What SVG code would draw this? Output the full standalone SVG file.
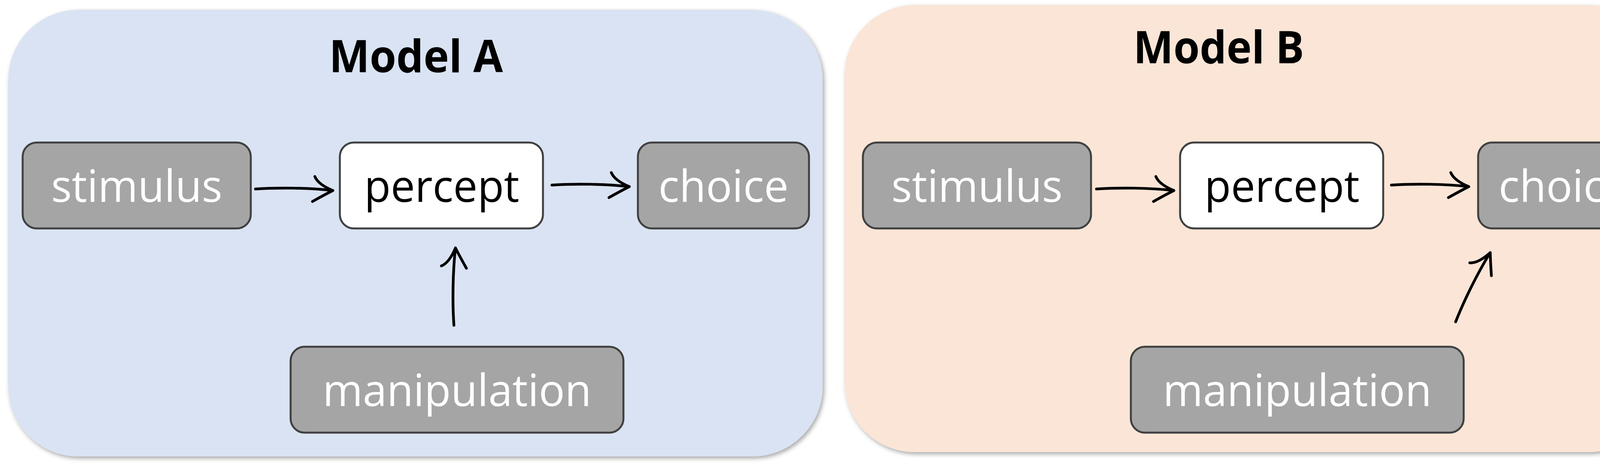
<svg xmlns="http://www.w3.org/2000/svg" width="4268" height="1196" viewBox="0 0 4268 1196">
<style>
.panelA{fill:#DAE3F3;filter:url(#shadow)}
.panelB{fill:#FBE5D6;filter:url(#shadow)}
.node{fill:#A5A5A5;stroke:#404040;stroke-width:5}
.nodeW{fill:#FFFFFF;stroke:#404040;stroke-width:5}
.lbl{font-family:"Open Sans","Liberation Sans",sans-serif;font-size:114px;text-anchor:middle;fill:#FFFFFF}
.lblK{fill:#000000}
.title{font-family:"Open Sans","Liberation Sans",sans-serif;font-weight:bold;font-size:115px;text-anchor:middle;fill:#000000}
.arrow{fill:none;stroke:#000000;stroke-width:7;stroke-linecap:round;stroke-linejoin:round}
</style>
<defs>
<filter id="shadow" x="-5%" y="-5%" width="110%" height="110%">
<feDropShadow dx="4" dy="5" stdDeviation="6" flood-color="#000000" flood-opacity="0.35"/>
</filter>
<path id="arw" d="M-198,-4 C-140,-8 -60,-7 0,0 M-46,-36 Q-38,-16 0,0 M0,0 C-18,9 -36,19 -52,28"/>
</defs>
<rect width="4268" height="1196" fill="#FFFFFF"/>
<g id="panel-a">
<rect class="panelA" x="21" y="25" width="2085" height="1144" rx="180" ry="180"/>
<text class="title" x="1065" y="185" textLength="445" lengthAdjust="spacingAndGlyphs">Model A</text>
</g>
<g id="panel-b">
<rect class="panelB" x="2162" y="13" width="2085" height="1145" rx="180" ry="180"/>
<text class="title" x="3120" y="162" textLength="437" lengthAdjust="spacingAndGlyphs">Model B</text>
</g>
<g id="a-stimulus">
<rect class="node" x="58" y="365" width="584" height="220" rx="36"/>
<text class="lbl" x="350" y="517" textLength="438" lengthAdjust="spacingAndGlyphs">stimulus</text>
</g>
<g id="a-percept">
<rect class="nodeW" x="870" y="365" width="520" height="220" rx="36"/>
<text class="lbl lblK" x="1131" y="517" textLength="397" lengthAdjust="spacingAndGlyphs">percept</text>
</g>
<g id="a-choice">
<rect class="node" x="1633" y="365" width="438" height="220" rx="36"/>
<text class="lbl" x="1852" y="517" textLength="333" lengthAdjust="spacingAndGlyphs">choice</text>
</g>
<g id="a-manipulation">
<rect class="node" x="744" y="888" width="852" height="220" rx="36"/>
<text class="lbl" x="1170" y="1040" textLength="688" lengthAdjust="spacingAndGlyphs">manipulation</text>
</g>
<g id="b-stimulus">
<rect class="node" x="2209" y="365" width="584" height="220" rx="36"/>
<text class="lbl" x="2501" y="517" textLength="438" lengthAdjust="spacingAndGlyphs">stimulus</text>
</g>
<g id="b-percept">
<rect class="nodeW" x="3021" y="365" width="520" height="220" rx="36"/>
<text class="lbl lblK" x="3282" y="517" textLength="397" lengthAdjust="spacingAndGlyphs">percept</text>
</g>
<g id="b-choice">
<rect class="node" x="3784" y="365" width="438" height="220" rx="36"/>
<text class="lbl" x="4003" y="517" textLength="333" lengthAdjust="spacingAndGlyphs">choice</text>
</g>
<g id="b-manipulation">
<rect class="node" x="2895" y="888" width="852" height="220" rx="36"/>
<text class="lbl" x="3321" y="1040" textLength="688" lengthAdjust="spacingAndGlyphs">manipulation</text>
</g>
<g id="connectors" class="arrow">
<use href="#arw" transform="translate(852,488)"/>
<use href="#arw" transform="translate(1611,478)"/>
<use href="#arw" transform="translate(1166,635) rotate(-90)"/>
<use href="#arw" transform="translate(3005,488)"/>
<use href="#arw" transform="translate(3760,478)"/>
<use href="#arw" transform="translate(3815,647) rotate(-64.6)"/>
</g>
</svg>
